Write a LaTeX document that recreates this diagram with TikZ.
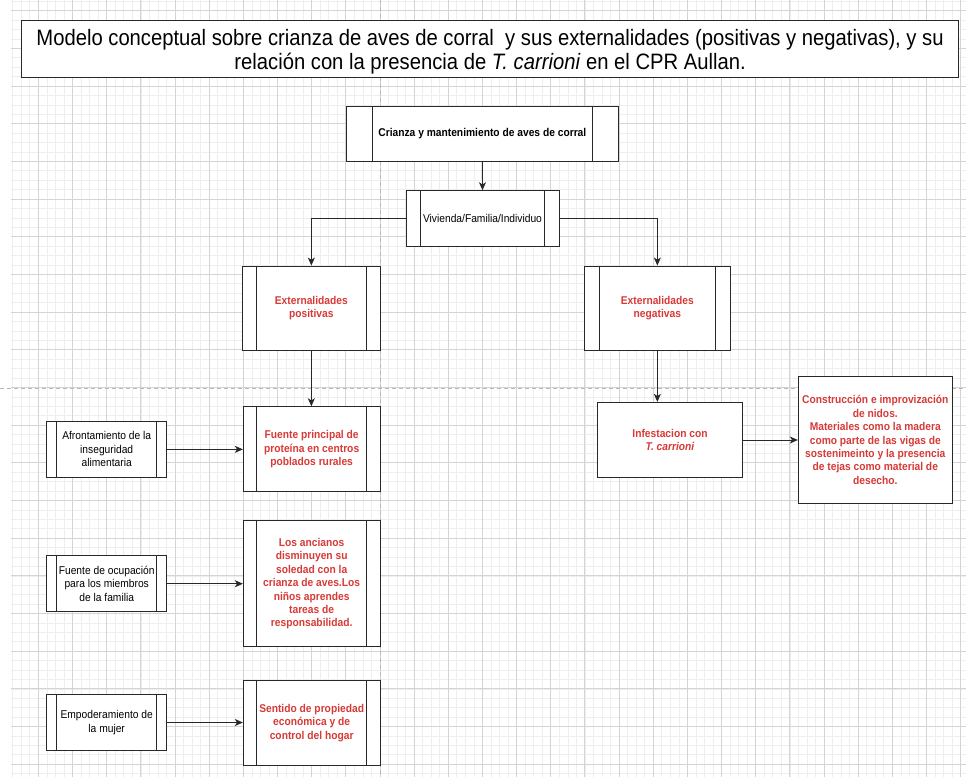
\documentclass[tikz,border=0pt]{standalone}
\usepackage{fontspec}
\setmainfont{Liberation Sans}[FakeStretch=0.907]
\usetikzlibrary{arrows.meta}
\definecolor{redtxt}{RGB}{215,58,55}
\definecolor{gridmaj}{RGB}{212,212,212}
\definecolor{gridmin}{RGB}{238,238,238}
\definecolor{dashc}{RGB}{185,185,185}
\definecolor{edge}{RGB}{40,40,40}
\begin{document}
\begin{tikzpicture}[x=1pt,y=-1pt,
  sz/.style 2 args={minimum width=#1pt,minimum height=#2pt},
  box/.style={draw=edge,line width=0.9pt,fill=white,inner sep=0pt,align=center,font=\fontsize{11.3}{13.4}\selectfont},
  procbox/.style={box,path picture={\draw[edge,line width=0.9pt]
     ([xshift=#1]path picture bounding box.north west) -- ([xshift=#1]path picture bounding box.south west)
     ([xshift=-#1]path picture bounding box.north east) -- ([xshift=-#1]path picture bounding box.south east);}},
  redt/.style={text=redtxt,font=\fontsize{11.3}{13.4}\selectfont\bfseries},
  arr/.style={draw=edge,line width=0.9pt,-{Stealth[length=8pt,width=7pt,inset=2.2pt]}},
  gmin/.style={draw=gridmin,line width=0.6pt},
  gmaj/.style={draw=gridmaj,line width=0.8pt},
  dashline/.style={draw=dashc,line width=0.8pt,dash pattern=on 4pt off 3pt}
]
\useasboundingbox (0,0) rectangle (966,777);
\fill[white] (0,0) rectangle (966,777);
% grid
\foreach \i in {0,...,111} \draw[gmin] ({12.7+8.54*\i},0) -- ({12.7+8.54*\i},777);
\foreach \j in {0,...,82} \draw[gmin] (11,{1.18+9.42*\j}) -- (966,{1.18+9.42*\j});
\foreach \i in {0,...,27} \draw[gmaj] ({38.3+34.16*\i},0) -- ({38.3+34.16*\i},777);
\foreach \j in {0,...,20} \draw[gmaj] (11,{10.6+37.68*\j}) -- (966,{10.6+37.68*\j});
\draw[dashline] (380,0) -- (380,777);
\draw[dashline] (0,388) -- (966,388);

% title
\node[box,sz={936.8}{56.6}] (title) at (490.1,49) {};
\node[inner sep=0pt,align=center,font=\fontsize{22.3}{23.5}\selectfont,yshift=-2.5pt] (titletxt) at (title.center)
  {Modelo conceptual sobre crianza de aves de corral\ \ y sus externalidades (positivas y negativas), y su\\
   relación con la presencia de \textit{T. carrioni} en el CPR Aullan.};

% nodes
\node[procbox=26.7pt,sz={272.7}{55.7},font=\fontsize{11.3}{13.4}\selectfont\bfseries] (crianza) at (482.35,133.85)
  {Crianza y mantenimiento de aves de corral};
\node[procbox=14.7pt,sz={153}{56}] (viv) at (482.5,218.7) {Vivienda/Familia/Individuo};
\node[procbox=14pt,sz={137.3}{84.7},redt] (extpos) at (311.35,308.35) {Externalidades\\positivas};
\node[procbox=14.6pt,sz={145.3}{84.7},redt] (extneg) at (657.35,308.35) {Externalidades\\negativas};
\node[procbox=13.4pt,sz={136.7}{85},redt] (fuente) at (311.65,449.2)
  {Fuente principal de\\proteína en centros\\poblados rurales};
\node[procbox=10pt,sz={120}{56.7}] (afront) at (106.7,449.35)
  {Afrontamiento de la\\inseguridad\\alimentaria};
\node[box,sz={145.4}{75.4},redt] (infest) at (670,440) {Infestacion con\\\textit{T. carrioni}};
\node[box,sz={154}{126.6},redt] (constr) at (875.3,440)
  {Construcción e improvización\\de nidos.\\Materiales como la madera\\como parte de las vigas de\\sostenimeinto y la presencia\\de tejas como material de\\desecho.};
\node[procbox=10pt,sz={120}{56}] (ocup) at (106.7,583.7)
  {Fuente de ocupación\\para los miembros\\de la familia};
\node[procbox=13.4pt,sz={136.7}{126},redt] (anc) at (311.65,583.7)
  {Los ancianos\\disminuyen su\\soledad con la\\crianza de aves.Los\\niños aprendes\\tareas de\\responsabilidad.};
\node[procbox=10pt,sz={120}{56.4}] (empod) at (106.7,722.5)
  {Empoderamiento de\\la mujer};
\node[procbox=13.4pt,sz={136.7}{84.3},redt] (sent) at (311.65,722.85)
  {Sentido de propiedad\\económica y de\\control del hogar};

% connectors
\draw[arr] (crianza.south) -- (viv.north);
\draw[arr] (viv.west) -| (extpos.north);
\draw[arr] (viv.east) -| (extneg.north);
\draw[arr] (extpos.south) -- (extpos.south |- fuente.north);
\draw[arr] (extneg.south) -- (extneg.south |- infest.north);
\draw[arr] (infest.east) -- (constr.west);
\draw[arr] (afront.east) -- (afront.east -| fuente.west);
\draw[arr] (ocup.east) -- (ocup.east -| anc.west);
\draw[arr] (empod.east) -- (empod.east -| sent.west);
\end{tikzpicture}
\end{document}
